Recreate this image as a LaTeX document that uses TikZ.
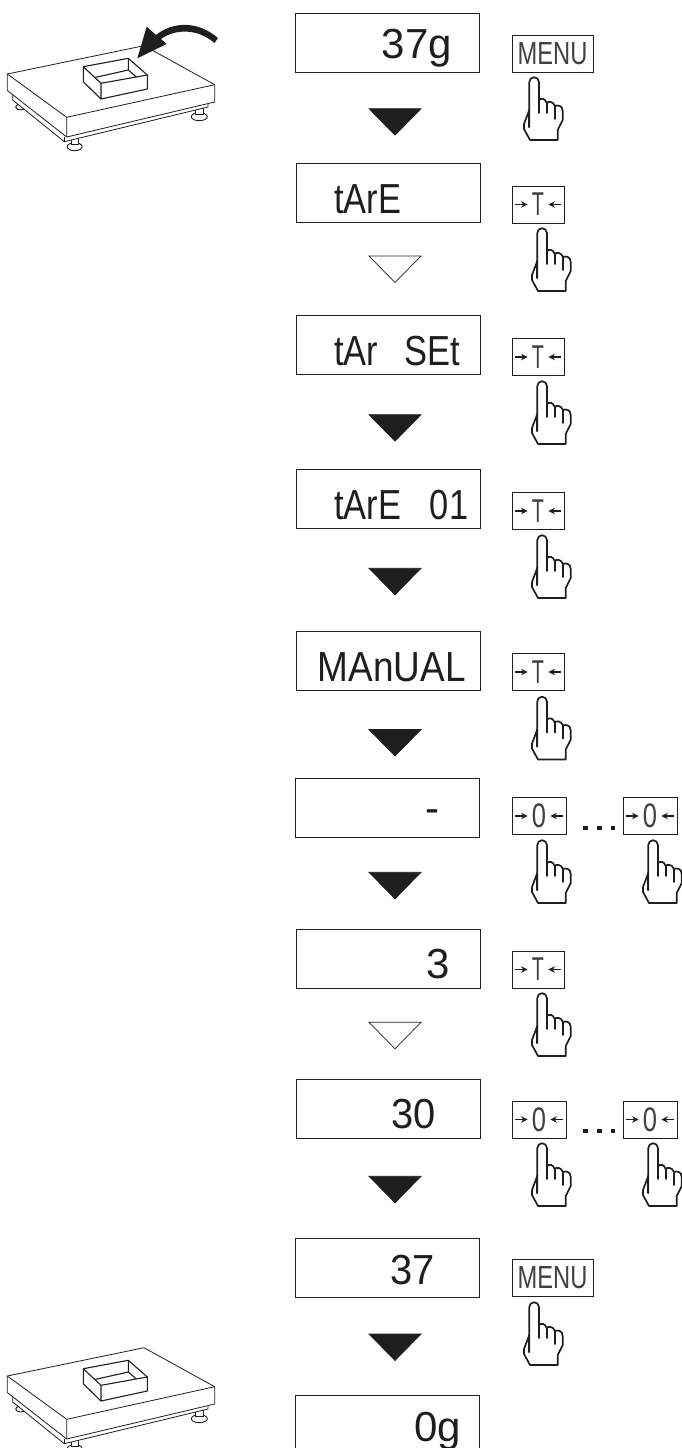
\documentclass[tikz,border=0pt]{standalone}
\usepackage{fontspec}
\setmainfont{Liberation Sans}
\usepackage{xcolor}
\usetikzlibrary{shapes.geometric, arrows.meta, positioning}
\definecolor{inkblack}{RGB}{30, 30, 30}

\newcommand{\narrow}[3]{\scalebox{#1}[1]{\fontsize{#2}{#2}\selectfont #3}}
\newcommand{\keyarrows}[1]{%
  \draw[keyarrow] ([xshift=3.5pt]#1.west) -- ++(12.5,0);
  \draw[keyarrow] ([xshift=-3.5pt]#1.east) -- ++(-12.5,0);}

\begin{document}
\begin{tikzpicture}[
    x=1pt, y=-1pt,
    disp/.style={rectangle, draw=inkblack, line width=0.9pt, minimum width=184pt, minimum height=59pt, inner sep=0pt},
    readout/.style={anchor=base west, inner sep=0pt, text=inkblack, font=\fontsize{42}{42}\selectfont},
    key/.style={rectangle, draw=inkblack, line width=0.8pt, minimum height=37pt, inner sep=0pt, text=black!75},
    keyarrow/.style={-{Stealth[length=6.5pt,width=6.5pt]}, line width=1.5pt, draw=inkblack},
    tri/.style={isosceles triangle, isosceles triangle apex angle=90, isosceles triangle stretches, minimum width=52pt, minimum height=26.5pt, inner sep=0pt, rotate=-90, anchor=apex, line width=0.7pt},
    solidtri/.style={tri, draw=inkblack, fill=inkblack},
    opentri/.style={tri, draw=inkblack},
    dot/.style={rectangle, fill=inkblack, minimum size=4.5pt, inner sep=0pt},
    hand/.pic={
      \draw[inkblack, line width=1.7pt, line join=round, line cap=round, fill=white]
        (-4.7,50) -- (-4.7,5) arc[start angle=180, end angle=360, radius=4.8] -- (4.9,23)
        .. controls (7,21) and (11,21) .. (12.7,26)
        .. controls (14,24) and (19,24) .. (21,29)
        .. controls (23,28) and (28.7,28) .. (28.7,34) -- (28.7,43) -- (23.7,53) -- (23.7,63) -- (-4,63)
        -- (-10,52) -- (-10,47) -- (-4.7,33);
      \draw[inkblack, line width=1.7pt, line cap=round]
        (-4.7,33) -- (-4.7,50) (4.9,23) -- (4.9,36) (12.7,26) -- (12.7,36) (21,29) -- (21,42);
    },
    scalebase/.pic={
      % feet
      \draw[inkblack, line width=0.9pt, fill=white] (199.3,116.7) ellipse[x radius=8, y radius=4];
      \draw[inkblack, line width=0.9pt, fill=white] (74.7,146.7) ellipse[x radius=7.5, y radius=4];
      \draw[inkblack, line width=0.9pt, fill=white] (20.7,107) ellipse[x radius=5, y radius=3];
      \draw[inkblack, line width=0.9pt, fill=white] (195,108) rectangle (203,114);
      \draw[inkblack, line width=0.9pt, fill=white] (71,138) rectangle (78,144);
      % lower frame
      \draw[inkblack, line width=0.8pt, fill=white, line join=round]
        (12.7,90) -- (12.7,100) -- (64.3,141.7) -- (208,107) -- (208,98) -- cycle;
      % plate
      \draw[inkblack, line width=0.8pt, fill=white, line join=round]
        (7.3,74) -- (144,45.7) -- (214.7,84.7) -- (214.7,102) -- (66.7,137) -- (7.3,90.5) -- cycle;
      \draw[inkblack, line width=0.8pt, line join=round]
        (7.3,74) -- (66.7,117.3) -- (214.7,84.7) (66.7,117.3) -- (66.7,137);
      \draw[inkblack, line width=0.8pt] (64.3,137) -- (64.3,141.7);
      % tray
      \draw[inkblack, line width=1.1pt, line join=round, fill=white]
        (83.3,66.7) -- (128.3,58.3) -- (147.3,75) -- (147.3,89) -- (101,99) -- (83.3,81.7) -- cycle;
      \draw[inkblack, line width=1.1pt, line join=round]
        (83.3,66.7) -- (101,83.3) -- (147.3,75) (101,83.3) -- (101,99)
        (95.7,77.3) -- (128.3,70) -- (136.7,77.3) (128.3,58.3) -- (128.3,70);
    }
]
\useasboundingbox (0,0) rectangle (682,1448);
\clip (0,0) rectangle (682,1448);

% Scales
\pic at (0,0) {scalebase};
\pic at (0,1302) {scalebase};
\fill[inkblack] (137.3,58.3) -- (146.7,26.7) -- (156,35)
  .. controls (172,22) and (197,20) .. (218,38) -- (214.5,43)
  .. controls (197,28) and (175,29) .. (161,39) -- (166.7,44) -- cycle;

% Displays
\node[disp] (d1) at (387.5,42.5) {};
\node[disp] (d2) at (388.5,192.5) {};
\node[disp] (d3) at (388.5,344.5) {};
\node[disp] (d4) at (388.5,498.5) {};
\node[disp] (d5) at (388.5,660.5) {};
\node[disp] (d6) at (387.5,807.5) {};
\node[disp] (d7) at (388.5,958.5) {};
\node[disp] (d8) at (388.5,1109) {};
\node[disp] (d9) at (387.5,1267.5) {};
\node[disp] (d10) at (387.5,1424.5) {};

% Readouts
\node[readout] (r1) at (381.5,58.3) {37g};
\node[readout] (r2) at (334,213.3) {\scalebox{.82}[1]{tArE}};
\node[readout] (r3) at (334,365.7) {\scalebox{.82}[1]{tAr\hspace{32pt}SEt}};
\node[readout] (r4) at (334,519) {\scalebox{.82}[1]{tArE\hspace{35pt}01}};
\node[readout] (r5) at (317.5,681) {\scalebox{.88}[1]{MAnUAL}};
\node[readout] (r6) at (425,822.5) {-};
\node[readout] (r7) at (426,978) {3};
\node[readout] (r8) at (391,1128) {\scalebox{.95}[1]{30}};
\node[readout] (r9) at (390.5,1284) {\scalebox{.95}[1]{37}};
\node[readout] (r10) at (414,1441.7) {0g};

% Triangles
\node[solidtri] (t1) at (395,135.7) {};
\node[opentri] (t2) at (395,283) {};
\node[solidtri] (t3) at (395,441.7) {};
\node[solidtri] (t4) at (395,595.3) {};
\node[solidtri] (t5) at (395,756.5) {};
\node[solidtri] (t6) at (395,899.3) {};
\node[opentri] (t7) at (395,1049.3) {};
\node[solidtri] (t8) at (395,1203.3) {};
\node[solidtri] (t9) at (395,1361) {};

% Keys
\node[key, minimum width=81pt] (menu1) at (552.5,53.5) {\narrow{.74}{32}{MENU}};
\node[key, minimum width=52pt] (tara1) at (538,204.5) {\narrow{.6}{33}{T}};
\node[key, minimum width=52pt] (tara2) at (538,357) {\narrow{.6}{33}{T}};
\node[key, minimum width=52pt] (tara3) at (538,511) {\narrow{.6}{33}{T}};
\node[key, minimum width=52pt] (tara4) at (538,672) {\narrow{.6}{33}{T}};
\node[key, minimum width=54pt] (zero1) at (539,816) {\narrow{.75}{34}{0}};
\node[key, minimum width=54pt] (zero2) at (650,816) {\narrow{.75}{34}{0}};
\node[key, minimum width=52pt] (tara5) at (538,969.5) {\narrow{.6}{33}{T}};
\node[key, minimum width=54pt] (zero3) at (539,1119.5) {\narrow{.75}{34}{0}};
\node[key, minimum width=54pt] (zero4) at (650,1119.5) {\narrow{.75}{34}{0}};
\node[key, minimum width=81pt] (menu2) at (552.5,1277.5) {\narrow{.74}{32}{MENU}};
\keyarrows{tara1}
\keyarrows{tara2}
\keyarrows{tara3}
\keyarrows{tara4}
\keyarrows{tara5}
\keyarrows{zero1}
\keyarrows{zero2}
\keyarrows{zero3}
\keyarrows{zero4}

% Dots between keys
\node[dot] (p1) at (585.7,828) {};
\node[dot] (p2) at (599.5,828) {};
\node[dot] (p3) at (613,828) {};
\node[dot] (q1) at (585.7,1131) {};
\node[dot] (q2) at (599.5,1131) {};
\node[dot] (q3) at (613,1131) {};

% Hands
\pic at (534,77) {hand};
\pic at (542,228) {hand};
\pic at (542,381) {hand};
\pic at (542,535) {hand};
\pic at (542,696.5) {hand};
\pic at (542,840) {hand};
\pic at (653,840) {hand};
\pic at (542,993) {hand};
\pic at (542,1143) {hand};
\pic at (653,1143) {hand};
\pic at (534,1302) {hand};
\end{tikzpicture}
\end{document}
